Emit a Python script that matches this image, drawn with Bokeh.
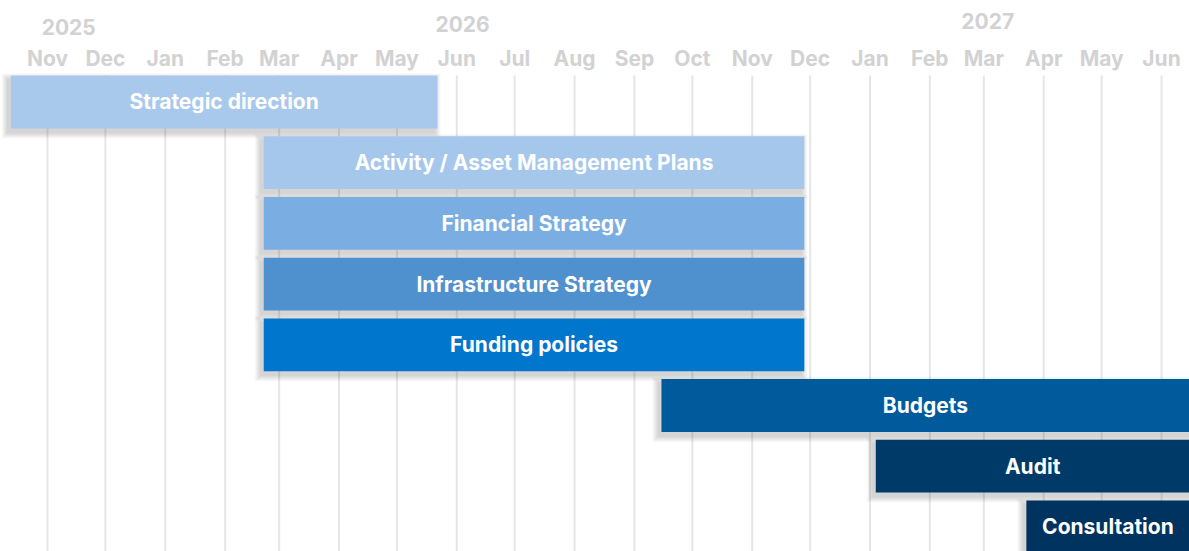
from datetime import datetime, timezone
from bokeh.plotting import figure
from bokeh.models import ColumnDataSource, Range1d
from bokeh.core.properties import value
from bokeh.embed import file_html
from bokeh.resources import INLINE

# ---------------- data ----------------
TASKS = ["Strategic direction", "Activity / Asset Management Plans", "Financial Strategy",
         "Infrastructure Strategy", "Funding policies", "Budgets", "Audit", "Consultation"]
STARTS = ["2025-10-13", "2026-02-21", "2026-02-21", "2026-02-21", "2026-02-21",
          "2026-09-15", "2027-01-04", "2027-03-23"]
ENDS = ["2026-05-22", "2026-11-28", "2026-11-28", "2026-11-28", "2026-11-28",
        "2027-06-30", "2027-06-30", "2027-06-30"]
COLORS = ["#a8c8ec", "#a6c7ec", "#7aaee3", "#4f91cf", "#0076cc", "#005a9c", "#003a68", "#00335f"]

MONTHS = ["2025-11-01", "2025-12-01", "2026-01-01", "2026-02-01", "2026-03-01", "2026-04-01",
          "2026-05-01", "2026-06-01", "2026-07-01", "2026-08-01", "2026-09-01", "2026-10-01",
          "2026-11-01", "2026-12-01", "2027-01-01", "2027-02-01", "2027-03-01", "2027-04-01",
          "2027-05-01", "2027-06-01"]
MONTH_LABELS = ["Nov", "Dec", "Jan", "Feb", "Mar", "Apr", "May", "Jun", "Jul", "Aug", "Sep",
                "Oct", "Nov", "Dec", "Jan", "Feb", "Mar", "Apr", "May", "Jun"]
YEAR_LABELS = ["2025", "2026", "2027"]
YEAR_POS = ["2025-11-12", "2026-06-04", "2027-03-03"]

# ---------------- helpers ----------------
def d(s):
    return datetime.strptime(s, "%Y-%m-%d").replace(tzinfo=timezone.utc)

def ms(dt):
    return dt.timestamp() * 1000.0

DAY = 86400000.0
W, H = 1189, 551
X0 = ms(d("2025-11-01")) - 24.34 * DAY
X1 = ms(d("2027-06-01")) + 14.5 * DAY
Y_TOP, Y_BOT = -1.672, 7.405
BAR_H = 0.87

px_x = (X1 - X0) / W
px_y = (Y_BOT - Y_TOP) / H

p = figure(width=W, height=H, x_axis_type="datetime",
           x_range=Range1d(X0, X1), y_range=Range1d(Y_BOT, Y_TOP),
           output_backend="svg", toolbar_location=None, min_border=0,
           background_fill_color="white", border_fill_color="white")
p.xaxis.visible = False
p.yaxis.visible = False
p.grid.visible = False
p.outline_line_color = None

rows = list(range(len(TASKS)))

# gridlines
month_dt = [d(m) for m in MONTHS]
p.segment(x0=month_dt, x1=month_dt, y0=[-0.435] * len(month_dt), y1=[Y_BOT + 1] * len(month_dt),
          line_color="#e6e6e6", line_width=2)

# month labels
p.text(x=month_dt, y=[-0.715] * len(month_dt), text=MONTH_LABELS,
       text_font=value("Inter"), text_font_style="bold", text_font_size="21px",
       text_color="#d2d2d2", text_align="center", text_baseline="middle")

# year labels
year_y = [-1.24, -1.29, -1.33]
p.text(x=[d(y) for y in YEAR_POS], y=year_y, text=YEAR_LABELS,
       text_font=value("Inter"), text_font_style="bold", text_font_size="21px",
       text_color="#d2d2d2", text_align="center", text_baseline="middle")

# bars
left = [ms(d(s)) for s in STARTS]
right = [ms(d(e)) for e in ENDS]
top = [r - BAR_H / 2 for r in rows]
bottom = [r + BAR_H / 2 for r in rows]

# soft shadow (layered)
off_x, off_y = -3.0, 4.0
for k in range(1, 7):
    p.quad(left=[l + (off_x - k) * px_x for l in left],
           right=[r + (off_x + k) * px_x for r in right],
           top=[t + (off_y - k) * px_y for t in top],
           bottom=[b + (off_y + k) * px_y for b in bottom],
           fill_color="black", fill_alpha=0.028, line_color=None)

src = ColumnDataSource(dict(left=left, right=right, top=top, bottom=bottom,
                            color=COLORS, task=TASKS,
                            cx=[(max(l, X0) + min(r, X1)) / 2 for l, r in zip(left, right)],
                            cy=rows))
p.quad(left="left", right="right", top="top", bottom="bottom", source=src,
       fill_color="color", line_color=None)

p.text(x="cx", y="cy", text="task", source=src,
       text_font=value("Inter"), text_font_style="bold", text_font_size="21px",
       text_color="white", text_align="center", text_baseline="middle")

open("out.html", "w").write(file_html(p, INLINE))
